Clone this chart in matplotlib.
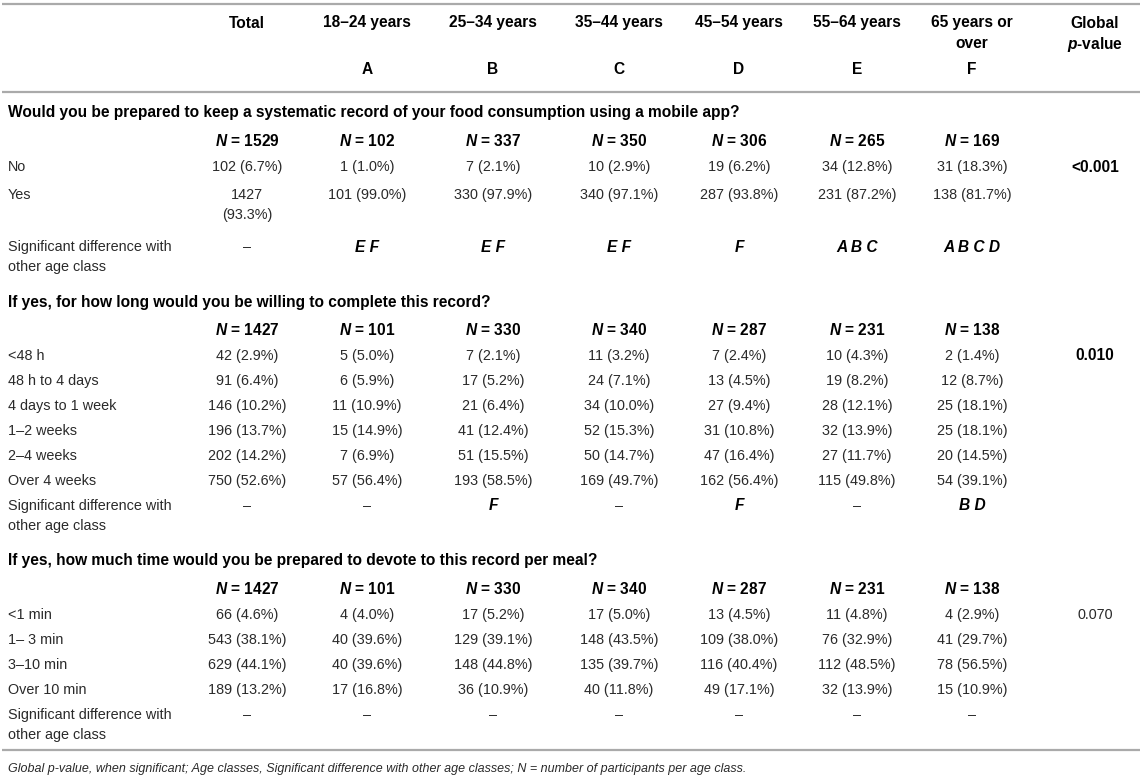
import matplotlib
matplotlib.use("Agg")
import matplotlib.pyplot as plt

plt.rcParams['font.family'] = ['Liberation Sans', 'DejaVu Sans']
plt.rcParams['mathtext.fontset'] = 'custom'
plt.rcParams['mathtext.rm'] = 'Liberation Sans'
plt.rcParams['mathtext.it'] = 'Liberation Sans:italic'
plt.rcParams['mathtext.bf'] = 'Liberation Sans:bold'
plt.rcParams['mathtext.bfit'] = 'Liberation Sans:bold:italic'

# column headers
col_names = [["Total"], ["18–24 years"], ["25–34 years"], ["35–44 years"],
             ["45–54 years"], ["55–64 years"], ["65 years or", "over"]]
col_letters = ["", "A", "B", "C", "D", "E", "F"]

# Q1: keep a record with a mobile app
q1_title = "Would you be prepared to keep a systematic record of your food consumption using a mobile app?"
q1_n = [1529, 102, 337, 350, 306, 265, 169]
q1_labels = ["No", "Yes"]
q1_counts = [[102, 1, 7, 10, 19, 34, 31],
             [1427, 101, 330, 340, 287, 231, 138]]
q1_pct = [[6.7, 1.0, 2.1, 2.9, 6.2, 12.8, 18.3],
          [93.3, 99.0, 97.9, 97.1, 93.8, 87.2, 81.7]]
q1_sig = ["–", "E F", "E F", "E F", "F", "A B C", "A B C D"]
q1_p = "<0.001"

# Q2: how long
q2_title = "If yes, for how long would you be willing to complete this record?"
q2_n = [1427, 101, 330, 340, 287, 231, 138]
q2_labels = ["<48 h", "48 h to 4 days", "4 days to 1 week", "1–2 weeks", "2–4 weeks", "Over 4 weeks"]
q2_counts = [[42, 5, 7, 11, 7, 10, 2],
             [91, 6, 17, 24, 13, 19, 12],
             [146, 11, 21, 34, 27, 28, 25],
             [196, 15, 41, 52, 31, 32, 25],
             [202, 7, 51, 50, 47, 27, 20],
             [750, 57, 193, 169, 162, 115, 54]]
q2_pct = [[2.9, 5.0, 2.1, 3.2, 2.4, 4.3, 1.4],
          [6.4, 5.9, 5.2, 7.1, 4.5, 8.2, 8.7],
          [10.2, 10.9, 6.4, 10.0, 9.4, 12.1, 18.1],
          [13.7, 14.9, 12.4, 15.3, 10.8, 13.9, 18.1],
          [14.2, 6.9, 15.5, 14.7, 16.4, 11.7, 14.5],
          [52.6, 56.4, 58.5, 49.7, 56.4, 49.8, 39.1]]
q2_sig = ["–", "–", "F", "–", "F", "–", "B D"]
q2_p = "0.010"

# Q3: time per meal
q3_title = "If yes, how much time would you be prepared to devote to this record per meal?"
q3_n = [1427, 101, 330, 340, 287, 231, 138]
q3_labels = ["<1 min", "1– 3 min", "3–10 min", "Over 10 min"]
q3_counts = [[66, 4, 17, 17, 13, 11, 4],
             [543, 40, 129, 148, 109, 76, 41],
             [629, 40, 148, 135, 116, 112, 78],
             [189, 17, 36, 40, 49, 32, 15]]
q3_pct = [[4.6, 4.0, 5.2, 5.0, 4.5, 4.8, 2.9],
          [38.1, 39.6, 39.1, 43.5, 38.0, 32.9, 29.7],
          [44.1, 39.6, 44.8, 39.7, 40.4, 48.5, 56.5],
          [13.2, 16.8, 10.9, 11.8, 17.1, 13.9, 10.9]]
q3_sig = ["–"] * 7
q3_p = "0.070"

footnote = ("Global p-value, when significant; Age classes, Significant difference "
            "with other age classes; N = number of participants per age class.")

W, H = 1143, 776
fig = plt.figure(figsize=(W / 100, H / 100), dpi=100)
ax = fig.add_axes([0, 0, 1, 1])
ax.set_xlim(0, W)
ax.set_ylim(H, 0)
ax.axis('off')

FS = 10.4     # regular body text
FB = 11.2     # bold text
body = '#2a2a2a'
rule = '#aaaaaa'
x_label = 8
col_x = [247, 367, 493, 619, 739, 857, 972]
p_x = 1095
LH = 20       # line height inside a cell


def put(x, y, s, ha='center', bold=False, italic=False, color=None):
    ax.text(x, y, s, ha=ha, va='center', fontsize=FB if bold else FS,
            fontweight='bold' if bold else 'normal',
            style='italic' if italic else 'normal',
            color=color or ('black' if bold else body))


# header
ax.hlines([4, 92], 2, 1140, color=rule, lw=1.6)
for x, name, let in zip(col_x, col_names, col_letters):
    for k, line in enumerate(name):
        put(x, 23 + k * 21, line, bold=True)
    put(x, 70, let, bold=True)
put(p_x, 23, "Global", bold=True)
put(p_x, 44, "$\\mathbfit{p}$-value", bold=True)


def block(y, title, ns, labels, counts, pcts, sig, pval, pbold):
    put(x_label, y, title, ha='left', bold=True)
    y += 28
    for x, n in zip(col_x, ns):
        put(x, y, "$\\mathbfit{N}$ = %d" % n, bold=True)
    y += 26
    for i, (lab, cnt, pct) in enumerate(zip(labels, counts, pcts)):
        cells = ["%d (%.1f%%)" % (c, p) for c, p in zip(cnt, pct)]
        # cells too wide for the column wrap onto a second line
        two = any(len(s) > 11 for s in cells)
        if two:
            y += 3
        put(x_label, y, lab, ha='left')
        for x, s in zip(col_x, cells):
            if len(s) > 11:
                a, b = s.split(" ")
                put(x, y, a)
                put(x, y + LH, b)
            else:
                put(x, y, s)
        if i == 0:
            put(p_x, y, pval, bold=pbold)
        y += 25 + (27 if two else 0)
    put(x_label, y, "Significant difference with", ha='left')
    put(x_label, y + LH, "other age class", ha='left')
    for x, s in zip(col_x, sig):
        if s == "–":
            put(x, y, s)
        else:
            put(x, y, s, bold=True, italic=True)
    return y


y = block(113, q1_title, q1_n, q1_labels, q1_counts, q1_pct, q1_sig, q1_p, True)
y = block(y + 55, q2_title, q2_n, q2_labels, q2_counts, q2_pct, q2_sig, q2_p, True)
y = block(y + 55, q3_title, q3_n, q3_labels, q3_counts, q3_pct, q3_sig, q3_p, False)

ax.hlines(y + 35, 2, 1140, color=rule, lw=1.6)
ax.text(x_label, y + 54, footnote, ha='left', va='center', fontsize=9.0,
        style='italic', color=body)

fig.savefig("out.png", dpi=100)
